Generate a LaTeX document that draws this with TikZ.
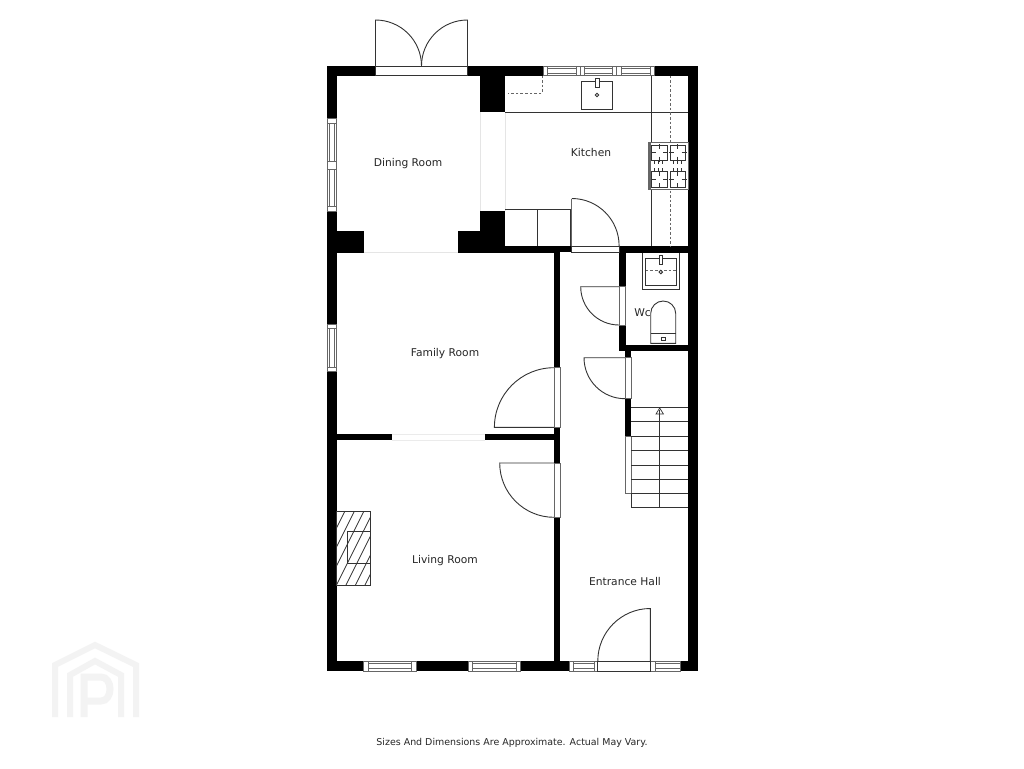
\documentclass[tikz,border=0pt]{standalone}
\usepackage{fontspec}
\usetikzlibrary{calc}
\setmainfont{DejaVu Sans}
\definecolor{ln}{HTML}{333333}
\definecolor{gl}{HTML}{666666}
\definecolor{wm}{HTML}{F3F3F3}
\tikzset{
  wall/.style={fill=black,draw=none},
  fix/.style={draw=ln,line width=0.9pt,fill=none},
  win/.style={draw=gl,line width=0.8pt,fill=white},
  doorl/.style={draw=ln,line width=0.9pt},
  dashln/.style={draw=gl,line width=0.9pt,dash pattern=on 2.6pt off 2pt},
  lab/.style={font=\fontsize{10.7pt}{12pt}\selectfont,text=black!85,inner sep=0pt},
  wmk/.style={draw=wm,line width=6pt,line join=miter,fill=none}
}
\begin{document}
\begin{tikzpicture}[x=1pt,y=-1pt]
\useasboundingbox (0,0) rectangle (1024,768);
\fill[white] (0,0) rectangle (1024,768);
% watermark
\draw[wmk] (55,717) -- (55,665) -- (95,645) -- (136,665) -- (136,717);
\draw[wmk] (70,717) -- (70,675) -- (95,661) -- (121,675) -- (121,717);
\draw[wmk,line width=7pt] (84,717) -- (84,677) -- (101,677) .. controls (113,677) and (113,701) .. (101,701) -- (84,701);
% outer walls
\fill[wall] (327,66) rectangle (698,75.5);
\fill[wall] (327,661) rectangle (698,671);
\fill[wall] (327,66) rectangle (336.5,671);
\fill[wall] (688,66) rectangle (698,671);
% dining/kitchen piers
\fill[wall] (480,75) rectangle (505,112);
\fill[wall] (480,211) rectangle (505,252);
\fill[wall] (336,231) rectangle (363.5,252.5);
\fill[wall] (457.5,231) rectangle (505,252.5);
\draw[draw=black!10,line width=0.5pt] (480,112) -- (480,211) (505,112) -- (505,211) (363.5,252.5) -- (457.5,252.5);
% kitchen bottom wall
\fill[wall] (505,246) rectangle (572,252);
\fill[wall] (619,246) rectangle (698,252.5);
\fill[wall] (457.5,252) rectangle (560,253);
% hall left wall
\fill[wall] (554,252) rectangle (560,661);
% family/living wall
\fill[wall] (336,434) rectangle (391.5,440);
\fill[wall] (485,434) rectangle (554,440);
\draw[draw=black!8,line width=0.5pt] (391.5,434) -- (485,434) (391.5,440) -- (485,440);
% WC walls
\fill[wall] (619,246) rectangle (625.5,350.5);
\fill[wall] (619,344.5) rectangle (698,350.5);
\fill[wall] (625,350) rectangle (631,437);
% french doors
\draw[win,draw=ln] (375.5,66) rectangle (467.5,75.5);
\draw[doorl] (421.5,66) arc[start angle=0,end angle=-90,radius=46] -- (375.5,66);
\draw[doorl] (421.5,66) arc[start angle=180,end angle=270,radius=46] -- (467.5,66);
% kitchen window
\draw[win] (543,66) rectangle (654,75.5);
\foreach \a/\b in {547/576,584/612.7,621/650.5}{
  \draw[win] (\a,68.5) rectangle (\b,73);
  \draw[win] (\a,66) -- (\a,75.5) (\b,66) -- (\b,75.5);
}
\draw[win] (580,66) -- (580,75.5) (616.7,66) -- (616.7,75.5);
% left windows
\draw[win] (327,118) rectangle (336.5,211);
\draw[win] (327,123) -- (336.5,123) (327,161) -- (336.5,161) (327,169) -- (336.5,169) (327,206) -- (336.5,206);
\draw[win] (329.5,123) rectangle (334,161);
\draw[win] (329.5,169) rectangle (334,206);
\draw[win] (327,324) rectangle (336.5,371);
\draw[win] (327,328) -- (336.5,328) (327,367) -- (336.5,367);
\draw[win] (329.5,328) rectangle (334,367);
% bottom windows
\foreach \a/\b/\c/\d in {363.5/416/368/411.5,468/520.5/472.5/516.5,569/597.5/573/594,650.5/680/655.5/680}{
  \draw[win] (\a,661) rectangle (\b,671);
  \draw[win] (\c,663.8) rectangle (\d,668.2);
  \draw[win] (\c,661) -- (\c,671) (\d,661) -- (\d,671);
}
% entrance door
\draw[draw=ln,line width=0.9pt,fill=white] (597.5,661) rectangle (650.7,671);
\draw[doorl] (597.8,661) arc[start angle=180,end angle=270,radius=52.5] -- (650.3,661);
% kitchen fittings
\draw[fix] (505,112.3) -- (688,112.3);
\draw[fix] (651.7,75.5) -- (651.7,246);
\draw[dashln] (670,75.5) -- (670,246);
\draw[dashln] (542,75.5) -- (542,93.3) -- (508,93.3);
\draw[fix] (581.7,81.7) rectangle (612.3,109.3);
\draw[fix,fill=white] (595,78.7) rectangle (599,87);
\draw[fix] (597,95) circle[radius=1.7];
\draw[fix] (505,209.3) -- (570,209.3) -- (570,246);
\draw[fix] (537.3,209.3) -- (537.3,246);
% hob
\draw[draw=gl,fill=white,line width=0.8pt] (648.3,142.7) rectangle (688,189.3);
\fill[gl] (648.3,142.7) rectangle (651,189.3);
\foreach \x/\y in {651.7/145,670/145,651.7/171.5,670/171.5}{
  \draw[fix,line width=0.7pt] (\x,\y) rectangle +(15.5,15.5);
  \draw[fix,line width=0.7pt] ($(\x,\y)+(7.7,-1)$) -- +(0,5) ($(\x,\y)+(7.7,11.5)$) -- +(0,5)
     ($(\x,\y)+(-1,7.7)$) -- +(5,0) ($(\x,\y)+(11.5,7.7)$) -- +(5,0);
}
\foreach \x in {654,658,662,673,677,681}{
  \draw[fix,line width=0.6pt] (\x,160.5) -- +(0,3.5) (\x,171.5) -- +(0,-3.5);
}
% kitchen door
\draw[win,draw=ln] (571.8,246) rectangle (619,252);
\draw[draw=gl,line width=1pt] (571.8,198.5) -- (571.8,246);
\draw[doorl] (571.8,198.5) arc[start angle=-90,end angle=0,radius=47.3] -- (619.1,246);
% WC door
\draw[win] (619,286.7) rectangle (625.5,325);
\draw[doorl] (619,286.7) -- (580.7,286.7) arc[start angle=180,end angle=90,radius=38.3];
% cupboard door
\draw[win] (625,357.7) rectangle (631,398.7);
\draw[doorl] (625,357.7) -- (584,357.7) arc[start angle=180,end angle=90,radius=41];
% thin wall beside stairs
\draw[win] (625,436.7) rectangle (631,493.3);
% family door
\draw[win] (554,367.7) rectangle (560,427.3);
\draw[doorl] (554,367.7) arc[start angle=-90,end angle=-180,radius=59.6] -- (554,427.3);
% living door
\draw[win] (554,463) rectangle (560,517);
\draw[doorl] (554,463) -- (499.7,463) arc[start angle=180,end angle=90,radius=54.3];
% WC sink
\draw[fix] (642.3,252.5) -- (642.3,289.3) -- (679.3,289.3) -- (679.3,252.5);
\draw[fix] (645.7,258.3) rectangle (676.7,285.7);
\draw[dashln,line width=0.7pt] (645.7,270.7) -- (676.7,270.7);
\draw[fix,fill=white] (659,255) rectangle (662.7,264);
\draw[fix] (660.8,272) circle[radius=1.8];
% stairs
\foreach \y in {407.3,421.7,436.3,450.7,465,479,493.3,507.7}{
  \draw[fix] (631,\y) -- (688,\y);
}
\draw[fix] (631,493.3) -- (631,507.7);
\draw[fix] (659.7,410) -- (659.7,507.7);
\draw[fix,line width=0.7pt] (659.7,408) -- (656,414) -- (663.4,414) -- cycle;
% fireplace
\begin{scope}
\clip (336.5,511) rectangle (370.3,585.3);
\foreach \k in {0,...,12}{
  \draw[fix,line width=0.7pt] (300.5+\k*9.5,600) -- ++(45,-90);
}
\end{scope}
\draw[fix,line width=1pt] (336.5,511) rectangle (370.3,585.3);
\draw[fix,line width=1pt] (347.3,531) rectangle (370.3,563);
% labels
\node[lab] (dining) at (408,164) {Dining Room};
\node[lab] (kitchen) at (591,152.2) {Kitchen};
\node[lab] (wc) at (642.5,313) {Wc};
\node[lab] (family) at (445,353.5) {Family Room};
\node[lab] (living) at (445,561) {Living Room};
\node[lab] (hall) at (625,581.3) {Entrance Hall};
\node[lab,font=\fontsize{9.45pt}{11pt}\selectfont] (note) at (512,743) {Sizes And Dimensions Are Approximate. Actual May Vary.};
% toilet (over the label)
\draw[fix,fill=white] (650.7,343.3) -- (650.7,313.5) arc[start angle=180,end angle=360,radius=12.5] -- (675.7,343.3) -- cycle;
\draw[fix] (650.7,333.3) -- (675.7,333.3);
\draw[fix,line width=0.6pt] (661,337.3) rectangle (665,340);
\end{tikzpicture}
\end{document}
